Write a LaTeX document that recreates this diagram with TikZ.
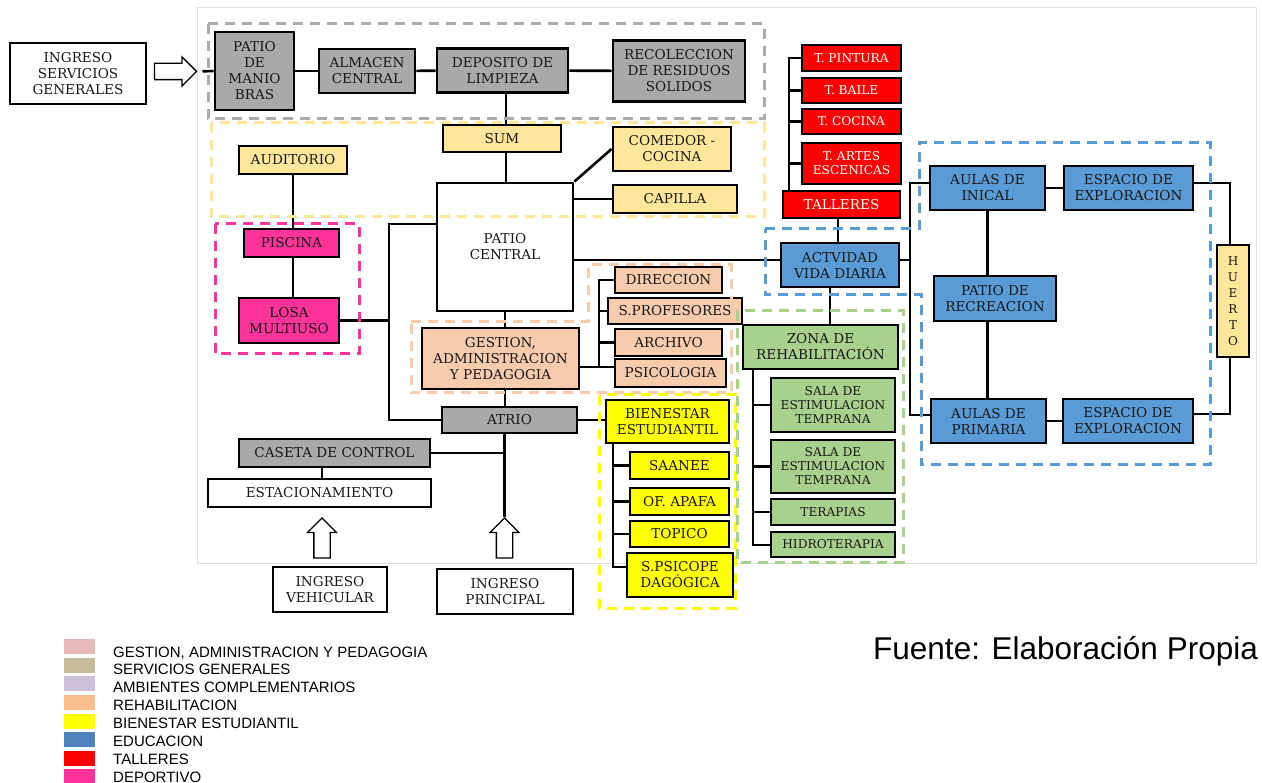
\documentclass[tikz,border=0pt]{standalone}
\usepackage{fontspec}
\setmainfont{DejaVu Serif}
\newfontfamily\arialf{Liberation Sans}
\usetikzlibrary{shapes.arrows}

\definecolor{cgris}{HTML}{AAA8A8}
\definecolor{camar}{HTML}{FFE699}
\definecolor{crosa}{HTML}{FF3399}
\definecolor{cdurazno}{HTML}{F8CBAD}
\definecolor{crojo}{HTML}{FF0000}
\definecolor{cazul}{HTML}{5B9BD5}
\definecolor{cverde}{HTML}{A9D18E}
\definecolor{cbien}{HTML}{FFFF00}
\definecolor{cgrisd}{HTML}{AEAAAA}
\definecolor{lgest}{HTML}{E6B8B7}
\definecolor{lserv}{HTML}{C4BD97}
\definecolor{lcomp}{HTML}{CCC0DA}
\definecolor{lrehab}{HTML}{FABF8F}
\definecolor{leduc}{HTML}{4F81BD}

\begin{document}
\begin{tikzpicture}[
x=1pt, y=-1pt,
box/.style={
draw,
line width=2.9pt,
align=center,
inner sep=1pt,
text=black!90,
font=\fontsize{13.6}{16}\selectfont
},
chico/.style={font=\fontsize{12.2}{14}\selectfont},
sz/.style 2 args={minimum width=#1, minimum height=#2},
blanco/.style={box, fill=white},
gris/.style={box, fill=cgris},
amar/.style={box, fill=camar},
rosa/.style={box, fill=crosa},
durazno/.style={box, fill=cdurazno},
rojo/.style={box, fill=crojo, text=white},
azul/.style={box, fill=cazul},
verde/.style={box, fill=cverde},
bien/.style={box, fill=cbien},
conn/.style={line width=2.6pt},
grupo/.style={dash pattern=on 10pt off 7pt, line width=3pt},
flecha/.style={
single arrow,
draw,
fill=white,
line width=1.3pt,
inner sep=7.5pt,
single arrow head extend=6.5pt
},
leg/.style={minimum width=31pt, minimum height=15pt, inner sep=0pt},
legtxt/.style={anchor=base west, inner sep=0pt, font=\arialf\fontsize{15}{17}\selectfont}
]
\useasboundingbox (0,0) rectangle (1262,783);

% marco general
\draw[black!12, line width=1pt] (197,8) rectangle (1256,563);

% servicios generales
\node[blanco, sz={136pt}{61pt}] (ingsg) at (78,73.5) {INGRESO\\SERVICIOS\\GENERALES};
\node[flecha, minimum height=42pt] (fsg) at (171.5,71.5) {};
\node[gris, sz={79pt}{78pt}] (patio) at (254.5,71) {PATIO\\DE\\MANIO\\BRAS};
\node[gris, sz={96pt}{44pt}] (almacen) at (367,71) {ALMACEN\\CENTRAL};
\node[gris, sz={131pt}{44pt}] (deposito) at (502.5,70.5) {DEPOSITO DE\\LIMPIEZA};
\node[gris, sz={132pt}{61pt}] (recol) at (679,71) {RECOLECCION\\DE RESIDUOS\\SOLIDOS};

% complementarios
\node[amar, sz={118pt}{27pt}] (sum) at (502,138.5) {SUM};
\node[amar, sz={118pt}{44pt}] (comedor) at (672,149) {COMEDOR -\\COCINA};
\node[amar, sz={124pt}{28pt}] (capilla) at (675,199) {CAPILLA};
\node[amar, sz={108pt}{28pt}] (auditorio) at (293,160) {AUDITORIO};
\node[blanco, sz={136pt}{128pt}] (pcentral) at (505,247) {PATIO\\CENTRAL};

% deportivo
\node[rosa, sz={95pt}{28pt}] (piscina) at (291.5,243) {PISCINA};
\node[rosa, sz={100pt}{45pt}] (losa) at (289,320.5) {LOSA\\MULTIUSO};

% gestion
\node[durazno, sz={157pt}{61pt}] (gestion) at (500.5,358.5) {GESTION,\\ADMINISTRACION\\Y PEDAGOGIA};
\node[gris, sz={135pt}{26pt}] (atrio) at (509.5,420) {ATRIO};
\node[durazno, sz={107pt}{26pt}] (direccion) at (668.5,280) {DIRECCION};
\node[durazno, sz={134pt}{26pt}] (sprof) at (675,311) {S.PROFESORES};
\node[durazno, sz={107pt}{27pt}] (archivo) at (668.5,342.5) {ARCHIVO};
\node[durazno, sz={111pt}{28pt}] (psicologia) at (670.5,373) {PSICOLOGIA};

% accesos
\node[gris, sz={191pt}{28pt}] (caseta) at (334.5,453) {CASETA DE CONTROL};
\node[blanco, sz={223pt}{28pt}] (estac) at (319.5,493) {ESTACIONAMIENTO};
\node[flecha, minimum height=40pt, shape border rotate=90] (fveh) at (322,542) {};
\node[flecha, minimum height=40pt, shape border rotate=90] (fpri) at (504.5,542) {};
\node[blanco, sz={114pt}{45pt}] (ingveh) at (330,589.5) {INGRESO\\VEHICULAR};
\node[blanco, sz={136pt}{45pt}] (ingpri) at (505,591.5) {INGRESO\\PRINCIPAL};

% bienestar estudiantil
\node[bien, sz={123pt}{43pt}] (bienestar) at (667.5,421.5) {BIENESTAR\\ESTUDIANTIL};
\node[bien, sz={99pt}{27pt}] (saanee) at (679.5,465.5) {SAANEE};
\node[bien, sz={99pt}{27pt}] (apafa) at (679.5,501.5) {OF. APAFA};
\node[bien, sz={99pt}{26pt}] (topico) at (679.5,534) {TOPICO};
\node[bien, sz={106pt}{44pt}] (spsico) at (680,575) {S.PSICOPE\\DAGÓGICA};

% talleres
\node[rojo, sz={117pt}{27pt}] (talleres) at (841.5,204.5) {TALLERES};
\node[rojo, chico, sz={99pt}{26pt}] (tpintura) at (851.5,58) {T. PINTURA};
\node[rojo, chico, sz={99pt}{25pt}] (tbaile) at (851.5,90.5) {T. BAILE};
\node[rojo, chico, sz={99pt}{25pt}] (tcocina) at (851.5,121.5) {T. COCINA};
\node[rojo, chico, sz={99pt}{41pt}] (tartes) at (851.5,163.5) {T. ARTES\\ESCENICAS};

% rehabilitacion
\node[azul, sz={118pt}{44pt}] (avd) at (840,265) {ACTVIDAD\\VIDA DIARIA};
\node[verde, sz={155pt}{44pt}] (zona) at (820.5,347) {ZONA DE\\REHABILITACIÓN};
\node[verde, chico, sz={124pt}{54pt}] (sala1) at (833,405) {SALA DE\\ESTIMULACION\\TEMPRANA};
\node[verde, chico, sz={124pt}{53pt}] (sala2) at (833,466.5) {SALA DE\\ESTIMULACION\\TEMPRANA};
\node[verde, chico, sz={124pt}{26pt}] (terapias) at (833,512) {TERAPIAS};
\node[verde, chico, sz={124pt}{25pt}] (hidro) at (833,544.5) {HIDROTERAPIA};

% educacion
\node[azul, sz={115pt}{44pt}] (inical) at (987.5,188) {AULAS DE\\INICAL};
\node[azul, sz={129pt}{44pt}] (espa1) at (1128.5,188) {ESPACIO DE\\EXPLORACION};
\node[azul, sz={122pt}{45pt}] (precre) at (995,298.5) {PATIO DE\\RECREACION};
\node[azul, sz={115pt}{44pt}] (primaria) at (988.5,421) {AULAS DE\\PRIMARIA};
\node[azul, sz={130pt}{44pt}] (espa2) at (1128,421) {ESPACIO DE\\EXPLORACION};
\node[amar, sz={32pt}{112pt}, font=\fontsize{12}{16}\selectfont] (huerto) at (1233,301) {H\\U\\E\\R\\T\\O};

% conexiones
\coordinate (busl) at (389,224);
\coordinate (gp) at (599,367);
\coordinate (by) at (613,567);
\coordinate (rb) at (789,58);
\coordinate (gb) at (753,545);
\coordinate (br) at (910,260);
\draw[conn, shorten <=5pt] (fsg.tip) -- (patio.west);
\draw[conn] (patio) -- (almacen);
\draw[conn] (almacen) -- (deposito);
\draw[conn] (deposito) -- (recol);
\draw[conn] (deposito.south) ++(3.5,0) coordinate (ds) -- (ds |- sum.north);
\draw[conn] (ds |- sum.south) -- (ds |- pcentral.north);
\draw[conn] (pcentral.north east) -- (comedor.west);
\draw[conn] (pcentral.east |- capilla.west) -- (capilla.west);
\draw[conn] (auditorio.south) -- (auditorio.south |- piscina.north);
\draw[conn] (auditorio.south |- piscina.south) -- (auditorio.south |- losa.north);
\draw[conn] (pcentral.west |- busl) -- (busl) -- (busl |- atrio.west) -- (atrio.west);
\draw[conn] (losa.east) -- (losa.east -| busl);
\draw[conn] (pcentral.south) -- (pcentral.south |- gestion.north);
\draw[conn] (pcentral.south |- gestion.south) -- (pcentral.south |- atrio.north);
\draw[conn] (pcentral.east |- br) -- (avd.west |- br);
\draw[conn] (gestion.east |- gp) -- (psicologia.west |- gp);
\draw[conn] (direccion.west) -| (gp);
\draw[conn] (sprof.west) -- (sprof.west -| gp);
\draw[conn] (archivo.west) -- (archivo.west -| gp);
\draw[conn] (atrio.east) -- (atrio.east -| bienestar.west);
\draw[conn] (bienestar.south -| by) -- (by) -- (spsico.west |- by);
\draw[conn] (saanee.west) -- (saanee.west -| by);
\draw[conn] (apafa.west) -- (apafa.west -| by);
\draw[conn] (topico.west) -- (topico.west -| by);
\draw[conn] (fpri.tip) -- (fpri.tip |- atrio.south);
\draw[conn] (caseta.east) -- (caseta.east -| fpri.tip);
\draw[conn] (caseta.south -| fveh.tip) -- (estac.north -| fveh.tip);
\draw[conn] (talleres.south -| 838,0) -- (avd.north -| 838,0);
\draw[conn] (tpintura.west) -- (rb) -- (rb |- talleres.north);
\draw[conn] (tbaile.west) -- (tbaile.west -| rb);
\draw[conn] (tcocina.west) -- (tcocina.west -| rb);
\draw[conn] (tartes.west) -- (tartes.west -| rb);
\draw[conn] (avd.south -| 830,0) -- (zona.north -| 830,0);
\draw[conn] (zona.south -| gb) -- (gb) -- (hidro.west |- gb);
\draw[conn] (sala1.west) -- (sala1.west -| gb);
\draw[conn] (sala2.west) -- (sala2.west -| gb);
\draw[conn] (terapias.west) -- (terapias.west -| gb);
\draw[conn] (avd.east |- br) -- (br);
\draw[conn] (inical.west |- 0,183) -| (br) |- (primaria.west |- 0,415);
\draw[conn] (inical) -- (espa1);
\draw[conn] (primaria) -- (espa2);
\draw[conn] (inical.south) -- (inical.south |- precre.north);
\draw[conn] (inical.south |- precre.south) -- (inical.south |- primaria.north);
\draw[conn] (espa1.east |- 0,183) -| (huerto.north -| 1230,0);
\draw[conn] (huerto.south -| 1230,0) |- (espa2.east |- 0,414);

% zonas punteadas
\draw[grupo, cgrisd] (208,24) rectangle (764,119);
\draw[grupo, camar] (211,123) rectangle (764,217);
\draw[grupo, crosa] (215,224) rectangle (359,354);
\draw[grupo, cdurazno] (411,322) -- (588,322) -- (588,265) -- (731,265) -- (731,393) -- (411,393) -- cycle;
\draw[grupo, cbien] (599,395) rectangle (735,608);
\draw[grupo, cverde] (737,311) rectangle (903,562);
\draw[grupo, cazul] (765,229) -- (919,229) -- (919,143) -- (1210,143) -- (1210,465) -- (921,465) -- (921,295) -- (765,295) -- cycle;

% leyenda
\node[leg, fill=lgest] (l1) at (79,646.8) {};
\node[leg, fill=lserv] (l2) at (79,665.4) {};
\node[leg, fill=lcomp] (l3) at (79,683.9) {};
\node[leg, fill=lrehab] (l4) at (79,702.5) {};
\node[leg, fill=cbien] (l5) at (79,721.1) {};
\node[leg, fill=leduc] (l6) at (79,739.6) {};
\node[leg, fill=crojo] (l7) at (79,758.2) {};
\node[leg, fill=crosa] (l8) at (79,776.8) {};
\node[legtxt] (t1) at (113,657) {GESTION, ADMINISTRACION Y PEDAGOGIA};
\node[legtxt] (t2) at (113,674.9) {SERVICIOS GENERALES};
\node[legtxt] (t3) at (113,692.7) {AMBIENTES COMPLEMENTARIOS};
\node[legtxt] (t4) at (113,710.6) {REHABILITACION};
\node[legtxt] (t5) at (113,728.4) {BIENESTAR ESTUDIANTIL};
\node[legtxt] (t6) at (113,746.3) {EDUCACION};
\node[legtxt] (t7) at (113,764.2) {TALLERES};
\node[legtxt] (t8) at (113,782) {DEPORTIVO};
\node[anchor=base west, inner sep=0pt, font=\arialf\fontsize{31.5}{34}\selectfont] (fuente) at (873,659) {Fuente: Elaboración Propia};
\end{tikzpicture}
\end{document}
